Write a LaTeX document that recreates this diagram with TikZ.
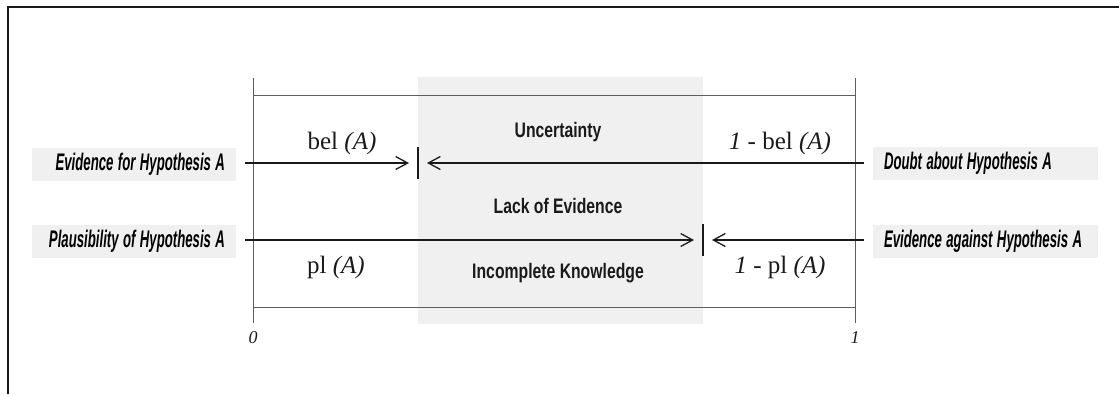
\documentclass[tikz,border=0pt]{standalone}
\usepackage{fontspec}
\usepackage{graphicx}
\setmainfont{Liberation Serif}
\setsansfont{Liberation Sans}
\usetikzlibrary{arrows.meta}
\definecolor{panelgray}{HTML}{f0f0f0}
\definecolor{rulegray}{HTML}{5e5e5e}
\definecolor{ink}{HTML}{1a1a1a}
% condensed sans text for the side boxes and the zone names
\newcommand{\sidetext}[1]{\scalebox{0.55}[1]{#1}}
\newcommand{\zonetext}[1]{\scalebox{0.75}[1]{#1}}

\begin{document}
\begin{tikzpicture}[
  x=1pt, y=-1pt,
  lbox/.style={fill=panelgray, text width=182pt, inner xsep=11pt, minimum height=33pt,
               align=right, font=\sffamily\bfseries\itshape\fontsize{24}{26}\selectfont},
  rbox/.style={fill=panelgray, text width=203pt, inner xsep=11pt, minimum height=33pt,
               align=left, font=\sffamily\bfseries\itshape\fontsize{24}{26}\selectfont},
  val/.style={font=\fontsize{25}{28}\selectfont, text=ink},
  zone/.style={font=\sffamily\bfseries\fontsize{21}{23}\selectfont, text=ink},
  axis/.style={font=\itshape\fontsize{18}{20}\selectfont, text=ink},
  frame/.style={draw=rulegray, line width=1pt},
  marker/.style={draw=ink, line width=1.1pt},
  arr/.style={-{Straight Barb[length=12pt,width=13pt]}, draw=ink, line width=1.3pt,
              shorten <=9pt, shorten >=9pt}
]
\useasboundingbox (0,0) rectangle (1119,394);

% outer border (top and left only)
\draw[ink, line width=1.5pt] (1119,7) -- (8,7) -- (8,394);

% shaded interval between bel and pl
\fill[panelgray] (418,77) rectangle (703,324);

% unit interval frame
\draw[frame] (253,78) -- (253,323);
\draw[frame] (855,78) -- (855,323);
\draw[frame] (253,95) -- (855,95);
\draw[frame] (253,307) -- (855,307);

% side boxes
\node[lbox] (evfor)     at (134,164)   {\sidetext{Evidence for Hypothesis A}};
\node[lbox] (plaus)     at (134,241)   {\sidetext{Plausibility of Hypothesis A}};
\node[rbox] (doubt)     at (985.5,163) {\sidetext{Doubt about Hypothesis A}};
\node[rbox] (evagainst) at (985.5,241) {\sidetext{Evidence against Hypothesis A}};

% markers where the arrows meet
\coordinate (belmark) at (418,163);
\coordinate (plmark)  at (703,240);
\draw[marker] (belmark) +(0,-16) -- +(0,16);
\draw[marker] (plmark) +(0,-16) -- +(0,16);

\draw[arr] (evfor.east |- belmark) -- (belmark);
\draw[arr] (doubt.west |- belmark) -- (belmark);
\draw[arr] (plaus.east |- plmark) -- (plmark);
\draw[arr] (evagainst.west |- plmark) -- (plmark);

% measure labels
\node[val] (bel)  at (342,143) {bel \textit{(A)}};
\node[val] (nbel) at (780,143) {\textit{1} - bel \textit{(A)}};
\node[val] (pl)   at (336,267) {pl \textit{(A)}};
\node[val] (npl)  at (780,267) {\textit{1} - pl \textit{(A)}};

% zone labels
\node[zone] (unc)  at (558,132) {\zonetext{Uncertainty}};
\node[zone] (lack) at (558,206) {\zonetext{Lack of Evidence}};
\node[zone] (inc)  at (558,273) {\zonetext{Incomplete Knowledge}};

% interval ends
\node[axis] (zero) at (253,338) {0};
\node[axis] (one)  at (855,338) {1};
\end{tikzpicture}
\end{document}
